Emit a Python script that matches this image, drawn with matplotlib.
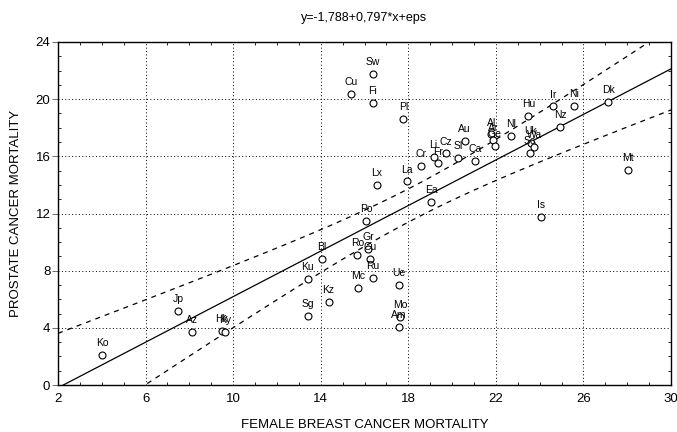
import numpy as np
import matplotlib
matplotlib.use("Agg")
import matplotlib.pyplot as plt
from matplotlib.ticker import MultipleLocator, FixedLocator

plt.rcParams['font.family'] = ['Liberation Sans', 'DejaVu Sans']

# ---- data ----
labels = ["Ko", "Jp", "Az", "Hk", "Ky", "Sg", "Kz", "Ku", "Mc", "Bl",
          "Ro", "Gr", "Cu", "Ru", "Ue", "Mo", "Am", "Po", "Ea", "Lx",
          "La", "Cr", "Li", "Fr", "Cz", "Sl", "Au", "Ca", "Al", "Ar",
          "Ge", "Nl", "Hu", "Ir", "Ni", "Nz", "Dk", "Mt", "Is", "Sw",
          "Cu", "Fi", "Pl", "Uk", "Wa", "Sc"]
breast = [4.02, 7.49, 8.10, 9.49, 9.62, 13.40, 14.36, 13.40, 15.70, 14.07,
          15.68, 16.17, 16.26, 16.38, 17.56, 17.64, 17.56, 16.07, 19.06, 16.55,
          17.95, 18.56, 19.16, 19.37, 19.72, 20.27, 20.57, 21.06, 21.80, 21.87,
          21.96, 22.70, 23.49, 24.62, 25.55, 24.94, 27.13, 28.04, 24.08, 16.38,
          15.39, 16.38, 17.78, 23.60, 23.75, 23.55]
prostate = [2.10, 5.20, 3.71, 3.80, 3.71, 4.83, 5.81, 7.42, 6.77, 8.80,
            9.10, 9.52, 8.82, 7.49, 7.00, 4.74, 4.06, 11.50, 12.82, 14.02,
            14.25, 15.34, 15.98, 15.51, 16.20, 15.88, 17.08, 15.68, 17.54, 17.14,
            16.72, 17.42, 18.82, 19.50, 19.55, 18.05, 19.80, 15.05, 11.74, 21.79,
            20.39, 19.76, 18.61, 16.96, 16.66, 16.26]
x_ticks = [2, 6, 10, 14, 18, 22, 26, 30]
y_ticks = [0, 4, 8, 12, 16, 20, 24]
intercept = -1.788
slope = 0.797
t_crit = 2.015  # 95%, df = n - 2

x = np.array(breast)
y = np.array(prostate)
n = len(x)

fig = plt.figure(figsize=(6.77, 4.32), dpi=100)
ax = fig.add_axes([58/677, 1 - 385/432, 613/677, 343/432])

ax.set_xlim(x_ticks[0], x_ticks[-1])
ax.set_ylim(y_ticks[0], y_ticks[-1])

# regression line and 95% confidence band
xx = np.linspace(x_ticks[0], x_ticks[-1], 300)
yy = intercept + slope * xx
resid = y - (intercept + slope * x)
s = np.sqrt(np.sum(resid ** 2) / (n - 2))
sxx = np.sum((x - x.mean()) ** 2)
half = t_crit * s * np.sqrt(1 / n + (xx - x.mean()) ** 2 / sxx)
ax.plot(xx, yy, color='black', lw=0.9, zorder=3)
ax.plot(xx, yy + half, color='black', lw=0.9, ls=(0, (4, 4)), zorder=3)
ax.plot(xx, yy - half, color='black', lw=0.9, ls=(0, (4, 4)), zorder=3)

# points
ax.plot(x, y, 'o', ms=5, mfc='white', mec='black', mew=0.8, zorder=4)
for lab, xi, yi in zip(labels, x, y):
    ax.annotate(lab, (xi, yi), xytext=(0, 8.5), textcoords='offset points',
                ha='center', va='center', fontsize=7.5, zorder=5)

# grid & ticks
ax.xaxis.set_major_locator(FixedLocator(x_ticks))
ax.yaxis.set_major_locator(FixedLocator(y_ticks))
ax.xaxis.set_minor_locator(MultipleLocator(1))
ax.yaxis.set_minor_locator(MultipleLocator(1))
ax.grid(True, which='major', color='black', lw=0.7, ls=(0, (1, 2.5)))
ax.tick_params(axis='x', which='major', length=0, pad=6, labelsize=9.5)
ax.tick_params(axis='y', which='major', length=4, width=0.6, direction='out',
               pad=1.5, labelsize=9.5, color='#555555')
ax.tick_params(which='minor', direction='in', length=2.5, width=0.6,
               top=True, right=True, bottom=True, left=True)
for sp in ax.spines.values():
    sp.set_linewidth(1.0)

ax.set_xlabel("FEMALE BREAST CANCER MORTALITY", fontsize=9.5, labelpad=10)
ax.set_ylabel("PROSTATE CANCER MORTALITY", fontsize=9.5, labelpad=10)
fig.text((58 + 671) / 2 / 677, 1 - 18 / 432, "y=-1,788+0,797*x+eps",
         ha='center', va='center', fontsize=9)

fig.savefig("out.png", dpi=100)
